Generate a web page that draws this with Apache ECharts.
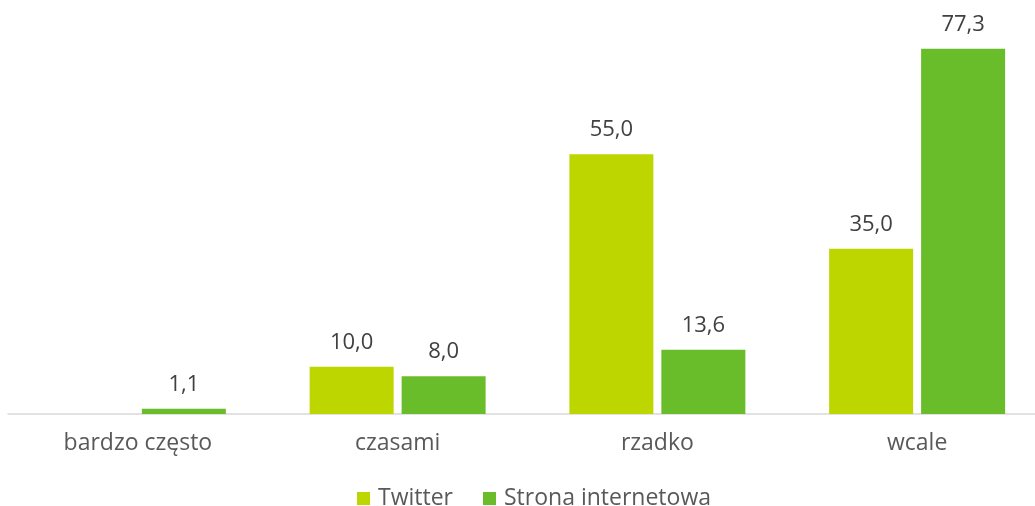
<!DOCTYPE html>
<html>
<head>
<meta charset="utf-8">
<script src="https://cdn.jsdelivr.net/npm/echarts@6/dist/echarts.min.js"></script>
<style>
  html, body { margin: 0; padding: 0; background: #fff; }
  #chart { width: 1035px; height: 506px; }
</style>
</head>
<body>
<div id="chart"></div>
<script>
// dane
let categories = ['bardzo często', 'czasami', 'rzadko', 'wcale']
let twitter = [null, 10.0, 55.0, 35.0]
let strona = [1.1, 8.0, 13.6, 77.3]
let seriesNames = ['Twitter', 'Strona internetowa']

let fontName = '"Open Sans", "Noto Sans", sans-serif'
let fmt = (p) => p.value == null ? '' : p.value.toFixed(1).replace('.', ',')

let labelStyle = {
    show: true,
    position: 'top',
    distance: 13,
    color: '#404040',
    fontSize: 22,
    fontFamily: fontName,
    formatter: fmt
}

let option = {
    animation: false,
    grid: {
        left: 8,
        width: 1039,
        top: 36,
        bottom: 92,
        outerBoundsMode: 'none'
    },
    legend: {
        top: 482,
        left: 352,
        itemWidth: 13,
        itemHeight: 13,
        itemGap: 30,
        icon: 'rect',
        textStyle: {
            color: '#595959',
            fontSize: 23,
            fontFamily: fontName,
            padding: [0, 0, 0, 3]
        },
        data: seriesNames
    },
    xAxis: {
        type: 'category',
        data: categories,
        axisTick: { show: false },
        axisLine: {
            lineStyle: { color: '#d9d9d9', width: 1.5 }
        },
        axisLabel: {
            color: '#595959',
            fontSize: 23,
            fontFamily: fontName,
            margin: 18
        }
    },
    yAxis: {
        type: 'value',
        min: 0,
        max: 80,
        show: false,
        splitLine: { show: false }
    },
    series: [{
        name: seriesNames[0],
        type: 'bar',
        data: twitter,
        barWidth: 84,
        barGap: '9.5%',
        itemStyle: { color: '#bed600' },
        label: labelStyle
    }, {
        name: seriesNames[1],
        type: 'bar',
        data: strona,
        barWidth: 84,
        itemStyle: { color: '#6abd2a' },
        label: labelStyle
    }]
}

let mychart = echarts.init(document.querySelector('#chart'))
mychart.setOption(option)
</script>
</body>
</html>
